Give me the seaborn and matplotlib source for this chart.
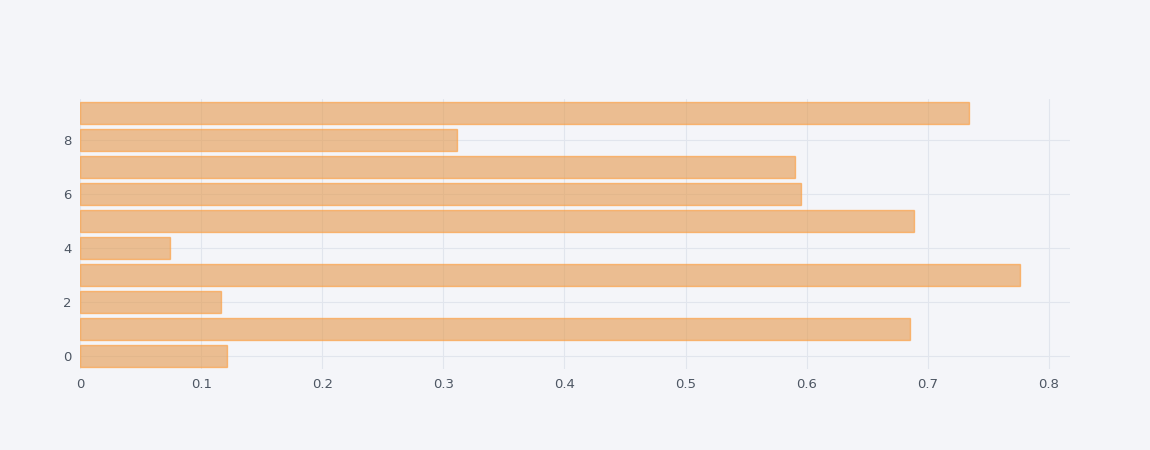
import matplotlib
matplotlib.use("Agg")
import matplotlib.pyplot as plt
import seaborn as sns

# values
categories = [0, 1, 2, 3, 4, 5, 6, 7, 8, 9]
values = [0.121, 0.685, 0.116, 0.776, 0.074, 0.689, 0.595, 0.590, 0.311, 0.734]

bg = "#f4f5f9"
sns.set_style("whitegrid")
plt.rcParams["font.family"] = ["DejaVu Sans"]

fig = plt.figure(figsize=(11.5, 4.5), dpi=100, facecolor=bg)
ax = fig.add_axes([0.0696, 0.179, 0.8609, 0.600], facecolor=bg)

sns.barplot(x=values, y=categories, orient="h", native_scale=True,
            color="#ff9933", alpha=0.6, width=0.8, edgecolor="#ff9933",
            linewidth=1, ax=ax)
for p in ax.patches:
    p.set_edgecolor((1, 0.6, 0.2, 1))

ax.set_xlim(0, 0.8175)
ax.set_ylim(-0.5, 9.5)
ax.set_xticks([0, 0.1, 0.2, 0.3, 0.4, 0.5, 0.6, 0.7, 0.8])
ax.set_xticklabels(["0", "0.1", "0.2", "0.3", "0.4", "0.5", "0.6", "0.7", "0.8"])
ax.set_yticks([0, 2, 4, 6, 8])
ax.grid(True, color="#e1e5ed", linewidth=0.8)
ax.set_axisbelow(True)
for s in ax.spines.values():
    s.set_visible(False)
ax.tick_params(colors="#4d5663", labelsize=9.5, length=0, pad=6)
ax.set_xlabel("")
ax.set_ylabel("")

fig.savefig("out.png", dpi=100, facecolor=bg)
